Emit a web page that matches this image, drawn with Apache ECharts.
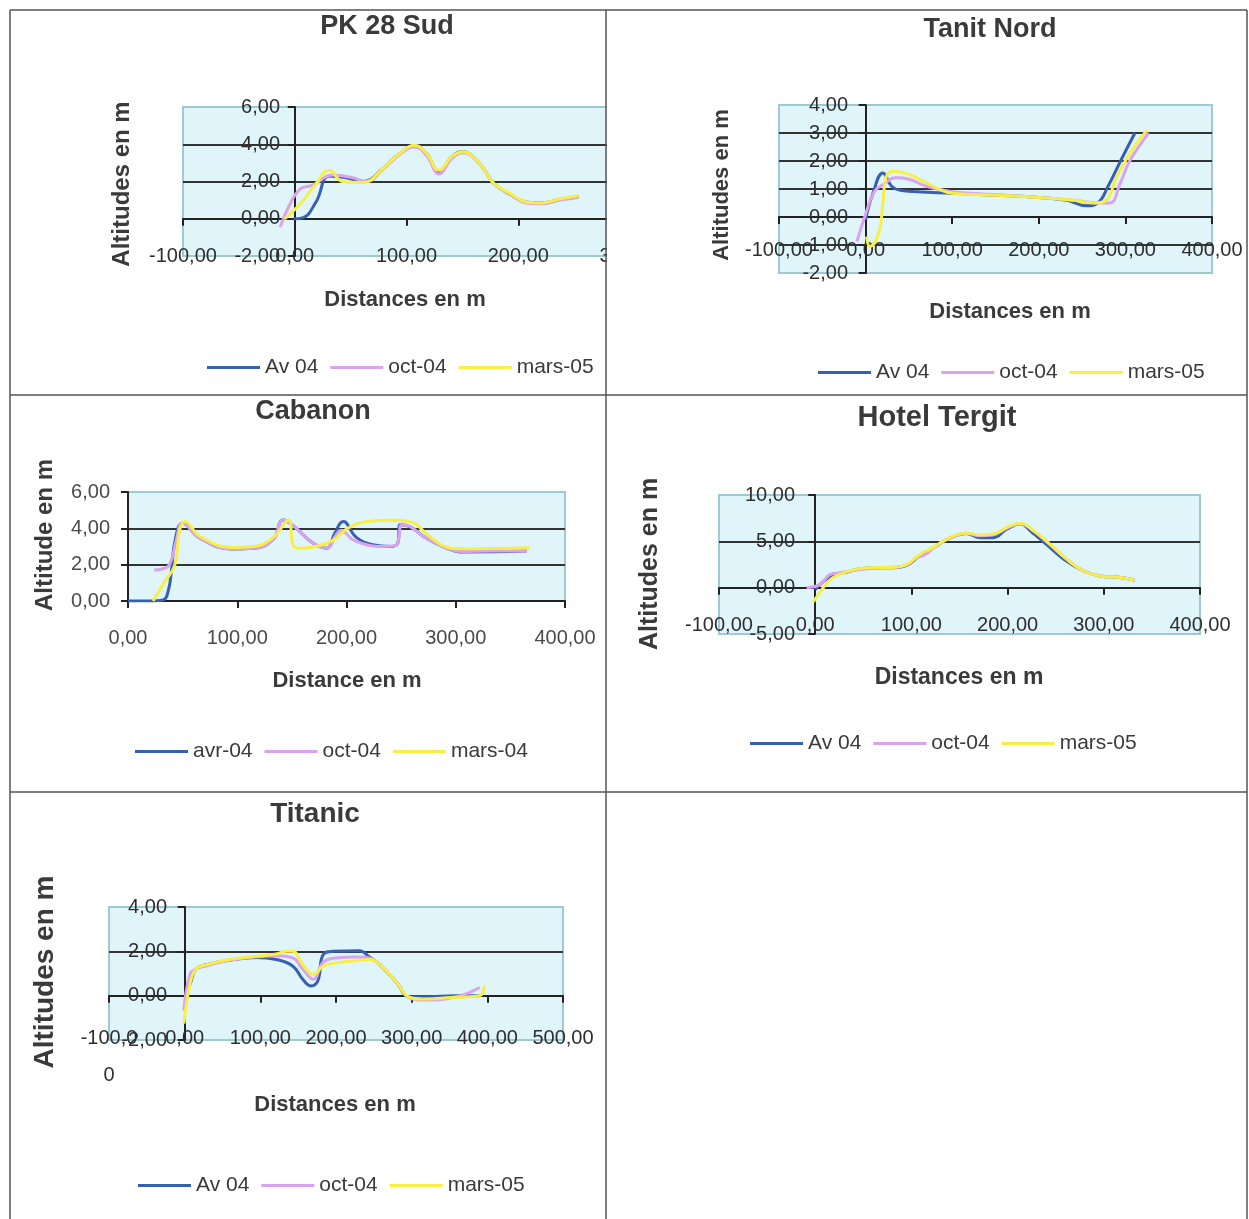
<!DOCTYPE html>
<html lang="fr">

<head>
    <meta charset="UTF-8">
    <title>Profils</title>
    <style>
        html, body { margin: 0; padding: 0; background: #fff; }
    </style>
</head>

<body>
    <div id="main" style="width: 1249px; height: 1219px"></div>
    <script src="https://cdn.jsdelivr.net/npm/echarts@6/dist/echarts.min.js"></script>
    <script type="text/javascript">
        var pkAv = [[-1, 0], [7, 0.05], [19, 0.9], [31, 2.3], [46, 2.2], [61, 2.0], [79, 2.7], [94, 3.5], [107, 3.9], [118, 3.5], [129, 2.5], [140, 3.3], [150, 3.6], [160, 3.3], [170, 2.6], [178, 1.9], [193, 1.3], [207, 0.9], [220, 0.85], [238, 1.05], [254, 1.2]];
        var pkOct = [[-13, -0.45], [-5, 0.7], [5, 1.6], [16, 1.8], [34, 2.35], [52, 2.2], [64, 2.0], [79, 2.65], [94, 3.45], [107, 3.85], [118, 3.4], [129, 2.4], [140, 3.2], [150, 3.55], [160, 3.3], [170, 2.6], [178, 1.9], [193, 1.3], [207, 0.85], [220, 0.8], [238, 1.0], [254, 1.15]];
        var pkMars = [[-9, 0], [5, 0.8], [18, 1.8], [31, 2.6], [43, 2.0], [61, 1.95], [79, 2.7], [94, 3.5], [107, 3.95], [118, 3.5], [129, 2.6], [140, 3.3], [150, 3.6], [160, 3.3], [170, 2.6], [178, 1.9], [193, 1.35], [207, 0.9], [220, 0.85], [238, 1.07], [254, 1.25]];

        var tnAv = [[0, -0.1], [8, 0.8], [20, 1.57], [30, 1.1], [40, 0.95], [60, 0.9], [100, 0.85], [150, 0.78], [200, 0.7], [232, 0.6], [255, 0.4], [268, 0.5], [280, 1.1], [296, 2.1], [311, 3.0]];
        var tnOct = [[-10, -0.87], [0, 0.1], [10, 0.9], [20, 1.15], [35, 1.4], [50, 1.35], [70, 1.1], [100, 0.9], [150, 0.8], [200, 0.7], [240, 0.6], [270, 0.5], [282, 0.5], [294, 1.2], [305, 2.0], [327, 3.0]];
        var tnMars = [[1, -0.7], [5, -1.05], [15, -0.6], [20, 0.5], [24, 1.45], [32, 1.63], [42, 1.6], [59, 1.4], [86, 0.98], [100, 0.85], [150, 0.78], [200, 0.7], [240, 0.6], [265, 0.5], [278, 0.6], [290, 1.45], [309, 2.46], [325, 3.1]];

        var cbAvr = [[0, 0], [20, 0], [32, 0.05], [37, 0.6], [40, 1.8], [43, 3.3], [50, 4.28], [66, 3.45], [96, 2.86], [115, 2.9], [133, 3.4], [142, 4.46], [154, 4.0], [169, 3.2], [182, 2.9], [189, 3.7], [197, 4.37], [209, 3.5], [224, 3.1], [240, 3.0], [247, 3.2], [249, 4.2], [258, 4.1], [273, 3.45], [292, 2.9], [304, 2.7], [365, 2.75]];
        var cbOct = [[24, 1.7], [30, 1.75], [38, 2.0], [44, 3.3], [50, 4.28], [66, 3.45], [96, 2.86], [115, 2.9], [133, 3.4], [142, 4.46], [154, 4.0], [169, 3.2], [182, 2.9], [190, 3.6], [195, 3.9], [205, 3.4], [215, 3.15], [230, 3.0], [245, 3.05], [248, 3.5], [250, 4.2], [258, 4.1], [273, 3.45], [292, 2.9], [304, 2.72], [335, 2.75], [365, 2.75]];
        var cbMars = [[23, 0], [33, 1.0], [43, 2.0], [47, 3.8], [52, 4.37], [66, 3.55], [96, 2.95], [115, 3.0], [133, 3.5], [147, 4.46], [151, 3.1], [157, 2.9], [172, 3.0], [188, 3.35], [201, 4.0], [218, 4.37], [240, 4.45], [258, 4.37], [276, 3.55], [292, 2.95], [304, 2.87], [368, 2.93]];

        var htAv = [[0, -0.2], [10, 0.8], [20, 1.4], [30, 1.6], [43, 1.95], [61, 2.15], [81, 2.15], [95, 2.4], [109, 3.5], [123, 4.3], [137, 5.2], [157, 5.85], [171, 5.4], [185, 5.4], [199, 6.3], [213, 6.9], [225, 6.0], [240, 4.7], [258, 3.1], [279, 1.8], [296, 1.27], [317, 1.1], [332, 0.8]];
        var htOct = [[-9, 0], [5, 0.35], [16, 1.45], [26, 1.6], [43, 1.9], [61, 2.1], [81, 2.2], [95, 2.4], [105, 3.2], [115, 3.6], [123, 4.3], [137, 5.2], [157, 5.85], [171, 5.6], [185, 5.7], [199, 6.4], [213, 6.9], [227, 6.1], [244, 4.65], [261, 3.1], [279, 1.8], [296, 1.3], [317, 1.1], [332, 0.85]];
        var htMars = [[-2, -1.55], [5, -0.5], [16, 0.9], [26, 1.45], [43, 2.0], [61, 2.17], [81, 2.17], [95, 2.5], [109, 3.6], [123, 4.35], [137, 5.25], [157, 5.9], [171, 5.7], [185, 5.8], [199, 6.5], [213, 6.95], [227, 6.15], [244, 4.7], [261, 3.1], [279, 1.8], [296, 1.27], [317, 1.1], [332, 0.8]];

        var tiAv = [[2, 0.1], [8, 0.6], [15, 1.2], [29, 1.4], [59, 1.6], [95, 1.72], [121, 1.63], [143, 1.33], [156, 0.74], [167, 0.44], [176, 0.67], [183, 1.85], [196, 2.0], [231, 2.03], [244, 1.75], [258, 1.4], [280, 0.6], [297, -0.05], [315, -0.05], [359, 0], [390, 0]];
        var tiOct = [[-1, -0.67], [7, 0.96], [15, 1.2], [29, 1.35], [59, 1.6], [95, 1.75], [121, 1.8], [143, 1.7], [156, 1.2], [170, 0.74], [183, 1.5], [200, 1.7], [227, 1.75], [244, 1.7], [258, 1.4], [280, 0.6], [297, -0.1], [315, -0.2], [359, -0.05], [390, 0.37]];
        var tiMars = [[-1, -1.26], [7, 0.5], [15, 1.2], [29, 1.4], [59, 1.63], [95, 1.78], [121, 1.88], [134, 2.0], [143, 2.0], [156, 1.4], [170, 0.96], [183, 1.33], [200, 1.48], [227, 1.58], [244, 1.63], [258, 1.4], [280, 0.6], [297, -0.07], [315, -0.15], [359, -0.07], [390, 0], [396, 0.45]];

        var namesA = ['Av 04', 'oct-04', 'mars-05'];
        var namesB = ['avr-04', 'oct-04', 'mars-04'];
        var colors = ['#3760b2', '#d9a3ee', '#f7ef45'];

        var FONT = "'Liberation Sans', Arial, sans-serif";

        // xM / yM : écart des étiquettes par rapport au bord de la zone de tracé
        var panels = [
            { title: 'PK 28 Sud', tpos: [387, 27], tSize: 27, grid: [183, 107, 447, 149], x: [-100, 300, 100], y: [-2, 6, 2], xM: 0, yM: -97,
              yName: 'Altitudes en m', yPos: [122, 184], ySize: 24, xName: 'Distances en m', xPos: [405, 300], xSize: 22,
              names: namesA, lpos: [207, 369], data: [pkAv, pkOct, pkMars] },
            { title: 'Tanit Nord', tpos: [990, 30], tSize: 27, grid: [779, 105, 433, 168], x: [-100, 400, 100], y: [-2, 4, 1], xM: -23, yM: -69,
              yName: 'Altitudes en m', yPos: [722, 185], ySize: 22, xName: 'Distances en m', xPos: [1010, 312], xSize: 22,
              names: namesA, lpos: [818, 374], data: [tnAv, tnOct, tnMars] },
            { title: 'Cabanon', tpos: [313, 412], tSize: 27, grid: [128, 492, 437, 109], x: [0, 400, 100], y: [0, 6, 2], xM: 37, yM: 18,
              yName: 'Altitude en m', yPos: [45, 535], ySize: 24, xName: 'Distance en m', xPos: [347, 681], xSize: 22,
              names: namesB, lpos: [135, 753], data: [cbAvr, cbOct, cbMars], light: true },
            { title: 'Hotel Tergit', tpos: [937, 418], tSize: 29, grid: [719, 495, 481, 139], x: [-100, 400, 100], y: [-5, 10, 5], xM: -9, yM: -76,
              yName: 'Altitudes en m', yPos: [650, 564], ySize: 25, xName: 'Distances en m', xPos: [959, 678], xSize: 23,
              names: namesA, lpos: [750, 745], data: [htAv, htOct, htMars] },
            { title: 'Titanic', tpos: [315, 814], tSize: 28, grid: [109, 907, 454, 133], x: [-100, 500, 100], y: [-2, 4, 2], xM: -20, yM: -58,
              yName: 'Altitudes en m', yPos: [45, 972], ySize: 28, xName: 'Distances en m', xPos: [335, 1105], xSize: 22,
              names: namesA, lpos: [138, 1187], data: [tiAv, tiOct, tiMars], wrapFirst: true }
        ];

        function fmt(v) {
            return v.toFixed(2).replace('.', ',');
        }

        var grids = [], xAxes = [], yAxes = [], legends = [], series = [], graphics = [];

        panels.forEach(function (p, i) {
            var labelColor = p.light ? '#4a4a4a' : '#2e2e2e';
            grids.push({
                left: p.grid[0], top: p.grid[1], width: p.grid[2], height: p.grid[3],
                show: true, backgroundColor: '#dff5f9', borderColor: '#9fcad3', borderWidth: 2
            });
            xAxes.push({
                type: 'value', gridIndex: i, min: p.x[0], max: p.x[1], interval: p.x[2],
                axisLine: { onZero: true, lineStyle: { color: '#222', width: 2 } },
                axisTick: { show: true, length: 7, lineStyle: { color: '#222', width: 2 } },
                axisLabel: {
                    margin: p.xM, fontSize: 20, color: labelColor, fontFamily: FONT,
                    verticalAlign: p.wrapFirst ? 'top' : 'middle',
                    lineHeight: p.wrapFirst ? 37 : 22,
                    formatter: function (v) {
                        if (p.wrapFirst && v === p.x[0]) return '-100,0\n0';
                        return fmt(v);
                    }
                },
                splitLine: { show: false }
            });
            yAxes.push({
                type: 'value', gridIndex: i, min: p.y[0], max: p.y[1], interval: p.y[2],
                axisLine: { onZero: true, lineStyle: { color: '#222', width: 2 } },
                axisTick: { show: true, length: 7, lineStyle: { color: '#222', width: 2 } },
                axisLabel: { margin: p.yM, fontSize: 20, color: labelColor, fontFamily: FONT, formatter: fmt },
                splitLine: { show: true, showMinLine: false, showMaxLine: false, lineStyle: { color: '#333', width: 2 } }
            });
            legends.push({
                data: p.names, left: p.lpos[0], top: p.lpos[1] - 12, padding: 0,
                icon: 'rect', itemWidth: 53, itemHeight: 3, itemGap: 12,
                textStyle: { fontSize: 21, color: '#3a3a3a', fontFamily: FONT }
            });
            p.data.forEach(function (d, k) {
                series.push({
                    name: p.names[k], type: 'line', xAxisIndex: i, yAxisIndex: i,
                    data: d, smooth: 0.45, symbol: 'none',
                    lineStyle: { width: 3, color: colors[k] }, itemStyle: { color: colors[k] }
                });
            });
            graphics.push({
                type: 'text', x: p.tpos[0], y: p.tpos[1], z: 50,
                style: { text: p.title, align: 'center', verticalAlign: 'middle', fontSize: p.tSize, fontWeight: 'bold', fontFamily: FONT, fill: '#3a3a3a' }
            });
            graphics.push({
                type: 'text', x: p.yPos[0], y: p.yPos[1], rotation: Math.PI / 2, z: 50,
                style: { text: p.yName, align: 'center', verticalAlign: 'middle', fontSize: p.ySize, fontWeight: 'bold', fontFamily: FONT, fill: '#3a3a3a' }
            });
            graphics.push({
                type: 'text', x: p.xPos[0], y: p.xPos[1], z: 50,
                style: { text: p.xName, align: 'center', verticalAlign: 'middle', fontSize: p.xSize, fontWeight: 'bold', fontFamily: FONT, fill: '#3a3a3a' }
            });
        });

        // le premier graphique déborde de sa case : on le coupe
        graphics.push({ type: 'rect', z: 100, shape: { x: 607, y: 95, width: 60, height: 190 }, style: { fill: '#fff' } });

        // cadre du tableau
        var lineStyle = { stroke: '#555', lineWidth: 1.5 };
        [[10, 10, 1247, 10], [10, 395, 1247, 395], [10, 792, 1247, 792],
         [10, 10, 10, 1219], [606, 10, 606, 1219], [1247, 10, 1247, 1219]].forEach(function (l) {
            graphics.push({ type: 'line', z: 101, shape: { x1: l[0], y1: l[1], x2: l[2], y2: l[3] }, style: lineStyle });
        });

        var myChart = echarts.init(document.getElementById('main'));
        myChart.setOption({
            animation: false,
            backgroundColor: '#fff',
            textStyle: { fontFamily: FONT },
            grid: grids,
            xAxis: xAxes,
            yAxis: yAxes,
            legend: legends,
            series: series,
            graphic: { elements: graphics }
        });
    </script>
</body>

</html>
